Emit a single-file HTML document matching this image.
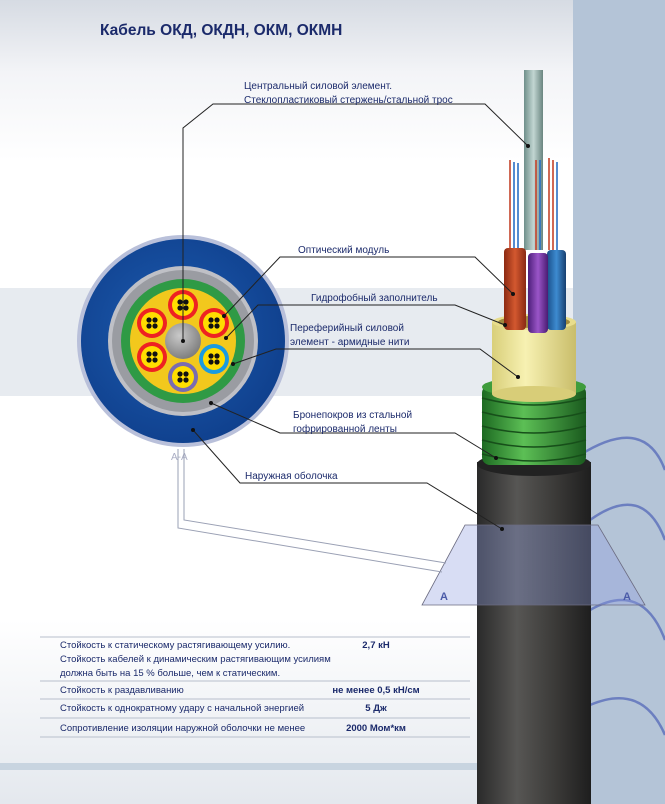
<!DOCTYPE html>
<html><head><meta charset="utf-8"><style>
html,body{margin:0;padding:0;background:#fff}
svg{display:block}
text{font-family:"Liberation Sans",sans-serif;fill:#1b2a6b}
</style></head><body>
<svg width="665" height="804" viewBox="0 0 665 804" xmlns="http://www.w3.org/2000/svg">
<defs>
<linearGradient id="bg" x1="0" y1="0" x2="0" y2="1">
<stop offset="0" stop-color="#d6dbe3"/><stop offset="0.09" stop-color="#f3f4f7"/><stop offset="0.2" stop-color="#fff"/><stop offset="1" stop-color="#fff"/></linearGradient>
<linearGradient id="tb" x1="0" y1="0" x2="0" y2="1">
<stop offset="0" stop-color="#fff"/><stop offset="1" stop-color="#e4e8ee"/></linearGradient>
<linearGradient id="jk" x1="0" y1="0" x2="1" y2="0">
<stop offset="0" stop-color="#2a2a2a"/><stop offset="0.35" stop-color="#575654"/><stop offset="0.7" stop-color="#3a3937"/><stop offset="1" stop-color="#1e1e1e"/></linearGradient>
<linearGradient id="gr" x1="0" y1="0" x2="1" y2="0">
<stop offset="0" stop-color="#1d6a22"/><stop offset="0.4" stop-color="#5cbf55"/><stop offset="1" stop-color="#1a5a1e"/></linearGradient>
<linearGradient id="ye" x1="0" y1="0" x2="1" y2="0">
<stop offset="0" stop-color="#d9cf7a"/><stop offset="0.4" stop-color="#f7f1b2"/><stop offset="1" stop-color="#c9bd6a"/></linearGradient>
<linearGradient id="rd" x1="0" y1="0" x2="1" y2="0">
<stop offset="0" stop-color="#8c2a12"/><stop offset="0.5" stop-color="#d3582f"/><stop offset="1" stop-color="#8a2a14"/></linearGradient>
<linearGradient id="pu" x1="0" y1="0" x2="1" y2="0">
<stop offset="0" stop-color="#4d1f7a"/><stop offset="0.5" stop-color="#9a55c8"/><stop offset="1" stop-color="#4a1c72"/></linearGradient>
<linearGradient id="bl" x1="0" y1="0" x2="1" y2="0">
<stop offset="0" stop-color="#1a4f8a"/><stop offset="0.5" stop-color="#3d8bd0"/><stop offset="1" stop-color="#173f70"/></linearGradient>
<linearGradient id="rod" x1="0" y1="0" x2="1" y2="0">
<stop offset="0" stop-color="#6f8f8a"/><stop offset="0.5" stop-color="#c2d6d2"/><stop offset="1" stop-color="#6a8580"/></linearGradient>
<radialGradient id="cg" cx="0.4" cy="0.35" r="0.7"><stop offset="0" stop-color="#c9c9c9"/><stop offset="1" stop-color="#7a7a7a"/></radialGradient>
<radialGradient id="bg2" cx="0.45" cy="0.45" r="0.6"><stop offset="0" stop-color="#1d5cb0"/><stop offset="1" stop-color="#0f3f8c"/></radialGradient>
</defs>
<rect width="665" height="804" fill="url(#bg)"/>
<rect x="0" y="288" width="573" height="108" fill="#e7ebf0"/>
<rect x="0" y="620" width="573" height="184" fill="url(#tb)"/>
<rect x="0" y="763" width="573" height="7" fill="#c8d4e0"/>
<rect x="573" y="0" width="92" height="804" fill="#b4c4d7"/>
<g fill="none" stroke="#6c7fc0" stroke-width="2.5">
<path d="M580 455 C620 430,650 430,665 470"/>
<path d="M590 520 C625 495,650 500,665 540"/>
<path d="M590 610 C625 590,650 600,665 640"/>
<path d="M590 705 C625 690,650 700,665 735"/>
</g>
<text x="100" y="35" font-size="15.5" font-weight="bold">Кабель ОКД, ОКДН, ОКМ, ОКМН</text>

<!-- cable -->
<rect x="477" y="462" width="114" height="342" fill="url(#jk)"/>
<ellipse cx="534" cy="464" rx="57" ry="12" fill="#222"/>
<g>
<rect x="482" y="385" width="104" height="80" rx="8" fill="url(#gr)"/>
<g stroke="#174f1a" stroke-width="1.5" fill="none">
<path d="M482 398 Q534 412 586 398"/><path d="M482 412 Q534 426 586 412"/><path d="M482 426 Q534 440 586 426"/><path d="M482 440 Q534 454 586 440"/><path d="M482 454 Q534 468 586 454"/></g>
<ellipse cx="534" cy="387" rx="52" ry="10" fill="#3f9c3c"/>
</g>
<rect x="492" y="322" width="84" height="72" fill="url(#ye)"/>
<ellipse cx="534" cy="394" rx="42" ry="8" fill="#d8cd78"/>
<ellipse cx="534" cy="322" rx="42" ry="8" fill="#e8dd8c"/>
<ellipse cx="534" cy="322" rx="36" ry="6" fill="#a08a40"/>
<rect x="524" y="70" width="19" height="180" fill="url(#rod)"/>
<g stroke-width="1.6">
<line x1="510" y1="160" x2="510" y2="250" stroke="#c5432a"/><line x1="514" y1="162" x2="514" y2="250" stroke="#2a6fc5"/><line x1="518" y1="163" x2="518" y2="250" stroke="#2a6fc5"/>
<line x1="536" y1="160" x2="536" y2="250" stroke="#c5432a"/><line x1="540" y1="160" x2="540" y2="250" stroke="#2a6fc5"/>
<line x1="549" y1="158" x2="549" y2="250" stroke="#c5432a"/><line x1="553" y1="160" x2="553" y2="250" stroke="#c5432a"/><line x1="557" y1="162" x2="557" y2="250" stroke="#2a6fc5"/>
</g>
<rect x="504" y="248" width="22" height="82" rx="4" fill="url(#rd)"/>
<rect x="547" y="250" width="19" height="80" rx="4" fill="url(#bl)"/>
<rect x="528" y="253" width="20" height="80" rx="4" fill="url(#pu)"/>

<!-- section plane -->
<polygon points="465,525 598,525 645,605 422,605" fill="#8e9fe0" fill-opacity="0.35" stroke="#6b6b80" stroke-width="0.8"/>
<text x="440" y="600" font-size="11" font-weight="bold" fill="#4a5aa8" style="fill:#4a5aa8">A</text>
<text x="623" y="600" font-size="11" font-weight="bold" style="fill:#4a5aa8">A</text>

<!-- cross-section -->
<circle cx="183" cy="341" r="106" fill="#b9c0da"/>
<circle cx="183" cy="341" r="102" fill="url(#bg2)"/>
<circle cx="183" cy="341" r="75" fill="#bfc0c6"/>
<circle cx="183" cy="341" r="71" fill="#9a9ca2"/>
<circle cx="183" cy="341" r="62" fill="#2f9a45"/>
<circle cx="183" cy="341" r="53" fill="#f2c81d"/>
<circle cx="183" cy="341" r="18" fill="url(#cg)"/>
<g>
<g transform="translate(183,305)"><circle r="15" fill="#e22"/><circle r="11" fill="#fd0"/></g>
<g transform="translate(214,323)"><circle r="15" fill="#e22"/><circle r="11" fill="#fd0"/></g>
<g transform="translate(214,359)"><circle r="15" fill="#1a9be0"/><circle r="11" fill="#fd0"/></g>
<g transform="translate(183,377)"><circle r="15" fill="#7a6cb0"/><circle r="11" fill="#fd0"/></g>
<g transform="translate(152,357)"><circle r="15" fill="#e22"/><circle r="11" fill="#fd0"/></g>
<g transform="translate(152,323)"><circle r="15" fill="#e22"/><circle r="11" fill="#fd0"/></g>
</g>
<g fill="#111">
<g transform="translate(183,305)"><circle cx="-3" cy="-3" r="2.6"/><circle cx="3" cy="-3" r="2.6"/><circle cx="-3" cy="3" r="2.6"/><circle cx="3" cy="3" r="2.6"/></g>
<g transform="translate(214,323)"><circle cx="-3" cy="-3" r="2.6"/><circle cx="3" cy="-3" r="2.6"/><circle cx="-3" cy="3" r="2.6"/><circle cx="3" cy="3" r="2.6"/></g>
<g transform="translate(214,359)"><circle cx="-3" cy="-3" r="2.6"/><circle cx="3" cy="-3" r="2.6"/><circle cx="-3" cy="3" r="2.6"/><circle cx="3" cy="3" r="2.6"/></g>
<g transform="translate(183,377)"><circle cx="-3" cy="-3" r="2.6"/><circle cx="3" cy="-3" r="2.6"/><circle cx="-3" cy="3" r="2.6"/><circle cx="3" cy="3" r="2.6"/></g>
<g transform="translate(152,357)"><circle cx="-3" cy="-3" r="2.6"/><circle cx="3" cy="-3" r="2.6"/><circle cx="-3" cy="3" r="2.6"/><circle cx="3" cy="3" r="2.6"/></g>
<g transform="translate(152,323)"><circle cx="-3" cy="-3" r="2.6"/><circle cx="3" cy="-3" r="2.6"/><circle cx="-3" cy="3" r="2.6"/><circle cx="3" cy="3" r="2.6"/></g>
</g>
<text x="171" y="460" font-size="10" style="fill:#a9adc4">А-А</text>
<g fill="none" stroke="#9aa0b4" stroke-width="1">
<path d="M178 449 V528 L442 572"/><path d="M184 449 V520 L446 563"/>
</g>

<!-- leaders -->
<g fill="none" stroke="#222" stroke-width="1">
<path d="M183 341 V128 L213 104 H485 L528 146"/>
<path d="M224 316 L280 257 H475 L513 294"/>
<path d="M226 338 L258 305 H455 L505 325"/>
<path d="M233 364 L276 349 H480 L518 377"/>
<path d="M211 403 L280 433 H455 L496 458"/>
<path d="M193 430 L240 483 H427 L502 529"/>
</g>
<g fill="#111">
<circle cx="183" cy="341" r="2"/><circle cx="528" cy="146" r="2"/>
<circle cx="224" cy="316" r="2"/><circle cx="513" cy="294" r="2"/>
<circle cx="226" cy="338" r="2"/><circle cx="505" cy="325" r="2"/>
<circle cx="233" cy="364" r="2"/><circle cx="518" cy="377" r="2"/>
<circle cx="211" cy="403" r="2"/><circle cx="496" cy="458" r="2"/>
<circle cx="193" cy="430" r="2"/><circle cx="502" cy="529" r="2"/>
</g>
<g font-size="10">
<text x="244" y="89">Центральный силовой элемент.</text>
<text x="244" y="103">Стеклопластиковый стержень/стальной трос</text>
<text x="298" y="253">Оптический модуль</text>
<text x="311" y="301">Гидрофобный заполнитель</text>
<text x="290" y="331">Переферийный силовой</text>
<text x="290" y="345">элемент - армидные нити</text>
<text x="293" y="418">Бронепокров из стальной</text>
<text x="293" y="432">гофрированной ленты</text>
<text x="245" y="479">Наружная оболочка</text>
</g>

<!-- table -->
<g stroke="#b8bfcc" stroke-width="1">
<line x1="40" y1="637" x2="470" y2="637"/><line x1="40" y1="681" x2="470" y2="681"/>
<line x1="40" y1="699" x2="470" y2="699"/><line x1="40" y1="718" x2="470" y2="718"/>
<line x1="40" y1="737" x2="470" y2="737"/>
</g>
<g font-size="9.5">
<text x="60" y="648">Стойкость к статическому растягивающему усилию.</text>
<text x="60" y="662">Стойкость кабелей к динамическим растягивающим усилиям</text>
<text x="60" y="676">должна быть на 15 % больше, чем к статическим.</text>
<text x="60" y="693">Стойкость к раздавливанию</text>
<text x="60" y="711">Стойкость к однократному удару с начальной энергией</text>
<text x="60" y="731">Сопротивление изоляции наружной оболочки не менее</text>
</g>
<g font-size="9.5" font-weight="bold" text-anchor="middle">
<text x="376" y="648">2,7 кН</text>
<text x="376" y="693">не менее 0,5 кН/см</text>
<text x="376" y="711">5 Дж</text>
<text x="376" y="731">2000 Мом*км</text>
</g>
</svg>
</body></html>
